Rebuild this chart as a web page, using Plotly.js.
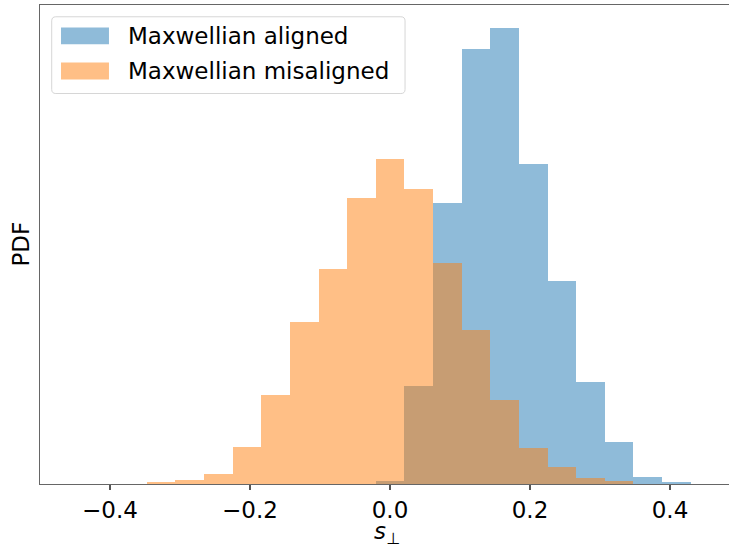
<!DOCTYPE html>
<html>
<head>
<meta charset="utf-8">
<script src="https://cdn.plot.ly/plotly-3.0.1.min.js"></script>
<style>html,body{margin:0;padding:0;background:#fff;}#chart{width:729px;height:544px;}</style>
</head>
<body>
<div id="chart"></div>
<script>
// Common histogram bin edges (s_perp)
var binEdges = [-0.3476, -0.3067, -0.2657, -0.2248, -0.1839, -0.1430, -0.1021, -0.0612, -0.0203,
                0.0206, 0.0615, 0.1024, 0.1433, 0.1842, 0.2251, 0.2660, 0.3069, 0.3478, 0.3887, 0.4296];
// Index of first bin used by each series
var alignedStart = 8;
var misalignedStart = 0;
// Densities (PDF)
var alignedPDF = [0.041, 1.224, 3.528, 5.459, 5.722, 4.017, 2.549, 1.283, 0.522, 0.092, 0.029];
var misalignedPDF = [0.029, 0.045, 0.129, 0.468, 1.120, 2.026, 2.700, 3.590, 4.079, 3.703,
                     2.771, 1.935, 1.057, 0.455, 0.217, 0.079, 0.041];
var seriesNames = ['Maxwellian aligned', 'Maxwellian misaligned'];
var xTickVals = [-0.4, -0.2, 0.0, 0.2, 0.4];
var xTickText = ['\u22120.4', '\u22120.2', '0.0', '0.2', '0.4'];
var xTitle = '<i>s</i><sub>\u22a5</sub>';
var yTitle = 'PDF';

function binsFor(start, n) {
  var c = [], w = [];
  for (var i = 0; i < n; i++) {
    var a = binEdges[start + i], b = binEdges[start + i + 1];
    c.push((a + b) / 2);
    w.push(b - a);
  }
  return {c: c, w: w};
}
var ba = binsFor(alignedStart, alignedPDF.length);
var bm = binsFor(misalignedStart, misalignedPDF.length);

var blue = '#1f77b4', orange = '#ff7f0e';
var traces = [
  {type: 'bar', x: ba.c, y: alignedPDF, width: ba.w, name: seriesNames[0],
   marker: {color: blue, opacity: 0.5, line: {width: 0}}, showlegend: false, hoverinfo: 'x+y'},
  {type: 'bar', x: bm.c, y: misalignedPDF, width: bm.w, name: seriesNames[1],
   marker: {color: orange, opacity: 0.5, line: {width: 0}}, showlegend: false, hoverinfo: 'x+y'}
];

var ymax = Math.max.apply(null, alignedPDF.concat(misalignedPDF)) * 1.05;
var font = 'DejaVu Sans, sans-serif';
var fs = 23;

// Manual legend (paper coordinates)
var bx0 = 0.017, bx1 = 0.5298, by0 = 0.8152, by1 = 0.9754, rx = 0.006, ry = 0.0085;
var boxPath = 'M ' + (bx0 + rx) + ' ' + by1 + ' L ' + (bx1 - rx) + ' ' + by1 +
  ' Q ' + bx1 + ' ' + by1 + ' ' + bx1 + ' ' + (by1 - ry) +
  ' L ' + bx1 + ' ' + (by0 + ry) + ' Q ' + bx1 + ' ' + by0 + ' ' + (bx1 - rx) + ' ' + by0 +
  ' L ' + (bx0 + rx) + ' ' + by0 + ' Q ' + bx0 + ' ' + by0 + ' ' + bx0 + ' ' + (by0 + ry) +
  ' L ' + bx0 + ' ' + (by1 - ry) + ' Q ' + bx0 + ' ' + by1 + ' ' + (bx0 + rx) + ' ' + by1 + ' Z';

var shapes = [
  {type: 'path', xref: 'paper', yref: 'paper', path: boxPath,
   fillcolor: 'rgba(255,255,255,0.8)', line: {color: '#d6d6d6', width: 1}},
  {type: 'rect', xref: 'paper', yref: 'paper', x0: 0.0305, x1: 0.1001, y0: 0.918, y1: 0.953,
   fillcolor: blue, opacity: 0.5, line: {width: 0}},
  {type: 'rect', xref: 'paper', yref: 'paper', x0: 0.0305, x1: 0.1001, y0: 0.8445, y1: 0.880,
   fillcolor: orange, opacity: 0.5, line: {width: 0}}
];
var annotations = [
  {xref: 'paper', yref: 'paper', x: 0.1255, y: 0.935, xanchor: 'left', yanchor: 'middle',
   text: seriesNames[0], showarrow: false, font: {family: font, size: fs, color: '#000'}},
  {xref: 'paper', yref: 'paper', x: 0.1255, y: 0.862, xanchor: 'left', yanchor: 'middle',
   text: seriesNames[1], showarrow: false, font: {family: font, size: fs, color: '#000'}},
  {xref: 'paper', yref: 'paper', x: 0.5036, y: -0.066, xanchor: 'center', yanchor: 'top',
   text: xTitle, showarrow: false, font: {family: font, size: fs, color: '#000'}},
  {xref: 'paper', yref: 'paper', x: -0.0276, y: 0.502, xanchor: 'center', yanchor: 'middle',
   textangle: -90, text: yTitle, showarrow: false, font: {family: font, size: fs, color: '#000'}}
];

var layout = {
  width: 729, height: 544,
  margin: {l: 40, r: 0, t: 5, b: 60, pad: 0},
  paper_bgcolor: '#fff', plot_bgcolor: '#fff',
  barmode: 'overlay', bargap: 0,
  font: {family: font, size: fs, color: '#000'},
  xaxis: {
    range: [-0.5, 0.4843], tickvals: xTickVals, ticktext: xTickText,
    ticks: 'outside', ticklen: 5, tickwidth: 1.2, tickcolor: '#555',
    showline: true, linecolor: '#666', linewidth: 1.3, mirror: true,
    showgrid: false, zeroline: false,
    tickfont: {family: font, size: fs, color: '#000'}
  },
  yaxis: {
    range: [0, ymax], showticklabels: false, ticks: '',
    showline: true, linecolor: '#666', linewidth: 1.3,
    showgrid: false, zeroline: false
  },
  shapes: shapes,
  annotations: annotations
};

Plotly.newPlot('chart', traces, layout, {displayModeBar: false, staticPlot: true});
</script>
</body>
</html>
